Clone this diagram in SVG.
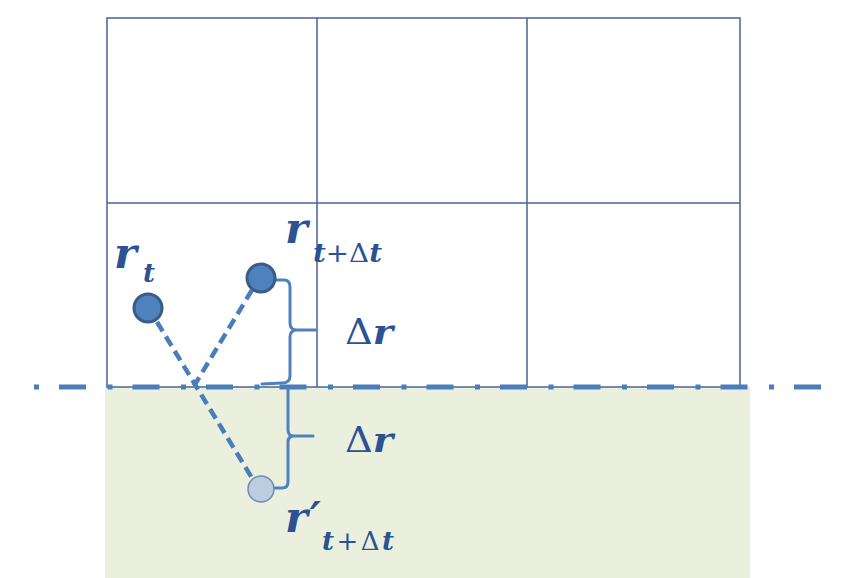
<svg xmlns="http://www.w3.org/2000/svg" width="857" height="578" viewBox="0 0 857 578">
<style>
.grid{fill:none;stroke:#4a6496;stroke-width:1.5}
.dash{fill:none;stroke:#4a7ebb;stroke-width:4.5;stroke-dasharray:11 6}
.brace{fill:none;stroke:#4f81bd;stroke-width:3;stroke-linejoin:round;stroke-linecap:round}
.pt{fill:#4f81bd;stroke:#385d8a;stroke-width:3}
.ghost{fill:#bccddf;stroke:#6d8cb3;stroke-width:1.5}
text{font-family:"DejaVu Serif","Liberation Serif",serif;fill:#2c5294}
.it{font-style:italic;font-weight:bold}
.up{font-style:normal;font-weight:normal}
.main{font-size:36px}
.var{font-size:43px}
.sub{font-size:26px}
.wide{letter-spacing:2.5px}
</style>
<rect x="105" y="387" width="645" height="191" fill="#ebf0de"/>
<g id="grid">
<rect class="grid" x="107" y="18" width="633" height="369"/>
<line class="grid" x1="317" y1="18" x2="317" y2="387"/>
<line class="grid" x1="527" y1="18" x2="527" y2="387"/>
<line class="grid" x1="107" y1="203" x2="740" y2="203"/>
</g>
<g id="connectors">
<line x1="34" y1="387" x2="826" y2="387" stroke="#4a7ebb" stroke-width="5" stroke-dasharray="5 20 27 21.5"/>
<line class="dash" x1="157" y1="322" x2="252" y2="478"/>
<line class="dash" x1="252" y1="290" x2="194" y2="386"/>
<path class="brace" d="M272,280 L284,280 Q290,280 290,287 L290,323 Q290,330 297,330 L316,330 M297,330 Q290,330 290,337 L290,376 Q290,383 282,383 L262,384"/>
<path class="brace" d="M288,389 L288,430 Q288,436 294,436 L313,436 M294,436 Q288,436 288,442 L288,482 Q288,488 282,488 L262,488"/>
</g>
<g id="rt">
<circle class="pt" cx="148" cy="308" r="14"/>
<text class="it var" x="114" y="268">r</text>
<text class="it sub" x="143" y="282">t</text>
</g>
<g id="rtdt">
<circle class="pt" cx="261" cy="278" r="14"/>
<text class="it var" x="285" y="243">r</text>
<text class="sub" x="313" y="262" textLength="69" lengthAdjust="spacingAndGlyphs"><tspan class="it">t</tspan><tspan class="up">+Δ</tspan><tspan class="it">t</tspan></text>
</g>
<g id="rprime">
<circle class="ghost" cx="261" cy="489" r="13"/>
<text x="285" y="532"><tspan class="it var">r</tspan><tspan class="it" font-size="42" dx="2">′</tspan><tspan class="sub it wide" x="322" y="550">t</tspan><tspan class="sub up wide">+Δ</tspan><tspan class="sub it">t</tspan></text>
</g>
<g id="dr1">
<text class="main" x="345" y="344" textLength="48" lengthAdjust="spacingAndGlyphs"><tspan class="up">Δ</tspan><tspan class="it">r</tspan></text>
</g>
<g id="dr2">
<text class="main" x="345" y="452" textLength="48" lengthAdjust="spacingAndGlyphs"><tspan class="up">Δ</tspan><tspan class="it">r</tspan></text>
</g>
</svg>
